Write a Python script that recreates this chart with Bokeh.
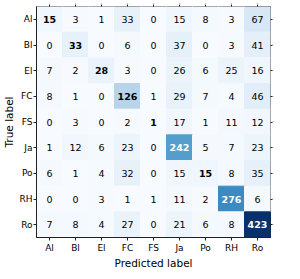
import numpy as np
from bokeh.plotting import figure
from bokeh.models import ColumnDataSource, CategoricalAxis
from bokeh.core.properties import value, field
from bokeh.embed import file_html
from bokeh.resources import INLINE

labels = ["Al", "Bl", "El", "FC", "FS", "Ja", "Po", "RH", "Ro"]
row_Al = [15, 3, 1, 33, 0, 15, 8, 3, 67]
row_Bl = [0, 33, 0, 6, 0, 37, 0, 3, 41]
row_El = [7, 2, 28, 3, 0, 26, 6, 25, 16]
row_FC = [8, 1, 0, 126, 1, 29, 7, 4, 46]
row_FS = [0, 3, 0, 2, 1, 17, 1, 11, 12]
row_Ja = [1, 12, 6, 23, 0, 242, 5, 7, 23]
row_Po = [6, 1, 4, 32, 0, 15, 15, 8, 35]
row_RH = [0, 0, 3, 1, 1, 11, 2, 276, 6]
row_Ro = [7, 8, 4, 27, 0, 21, 6, 8, 423]
rows = [row_Al, row_Bl, row_El, row_FC, row_FS, row_Ja, row_Po, row_RH, row_Ro]

blues = ["#f7fbff", "#deebf7", "#c6dbef", "#9ecae1", "#6baed6",
         "#4292c6", "#2171b5", "#08519c", "#08306b"]
stops = np.array([[int(c[i:i + 2], 16) for i in (1, 3, 5)] for c in blues], float)


def cmap(t):
    t = min(max(t, 0.0), 1.0) * (len(stops) - 1)
    i = min(int(t), len(stops) - 2)
    f = t - i
    rgb = stops[i] * (1 - f) + stops[i + 1] * f
    return "#%02x%02x%02x" % tuple(int(round(v)) for v in rgb)


vmax = max(max(r) for r in rows)
xs, ys, vals, colors, tcolors, styles = [], [], [], [], [], []
for i, (lab, r) in enumerate(zip(labels, rows)):
    for j, v in enumerate(r):
        xs.append(labels[j])
        ys.append(lab)
        vals.append(str(v))
        colors.append(cmap(v / vmax))
        tcolors.append("white" if v > vmax / 2 else "black")
        styles.append("bold" if i == j else "normal")

src = ColumnDataSource(dict(x=xs, y=ys, v=vals, c=colors, tc=tcolors, s=styles))

p = figure(x_range=labels, y_range=list(reversed(labels)),
           frame_width=234, frame_height=231,
           output_backend="svg", toolbar_location=None,
           min_border_left=0, min_border_right=0, min_border_top=0, min_border_bottom=0)
p.rect("x", "y", width=1, height=1, source=src, fill_color="c", line_color="c")
p.text("x", "y", text="v", source=src, text_align="center", text_baseline="middle",
       text_color="tc", text_font_style=field("s"), text_font=value("DejaVu Sans"),
       text_font_size="9.5px")

p.grid.visible = False
p.outline_line_color = "#222222"
p.outline_line_width = 1
for ax in (p.xaxis[0], p.yaxis[0]):
    ax.major_label_text_font = "DejaVu Sans"
    ax.major_label_text_font_size = "9px"
    ax.major_label_text_color = "black"
    ax.axis_label_text_font = "DejaVu Sans"
    ax.axis_label_text_font_size = "10.5px"
    ax.axis_label_text_font_style = "normal"
    ax.axis_label_text_color = "black"
    ax.major_tick_out = 3
    ax.major_tick_in = 0
    ax.major_tick_line_color = "#222222"
    ax.axis_line_color = "#222222"
p.xaxis.major_label_standoff = 2
p.xaxis.axis_label_standoff = 1
p.yaxis.major_label_standoff = 1
p.yaxis.axis_label_standoff = 1
p.xaxis.axis_label = "Predicted label"
p.yaxis.axis_label = "True label"
p.yaxis.major_label_orientation = "horizontal"

for loc in ("above", "right"):
    ax = CategoricalAxis(major_label_overrides={lab: "" for lab in labels},
                         major_label_text_font_size="1px", major_label_standoff=0,
                         major_tick_out=2, major_tick_in=0, axis_line_color=None,
                         major_tick_line_color="#222222")
    p.add_layout(ax, loc)

open("out.html", "w").write(file_html(p, INLINE))
